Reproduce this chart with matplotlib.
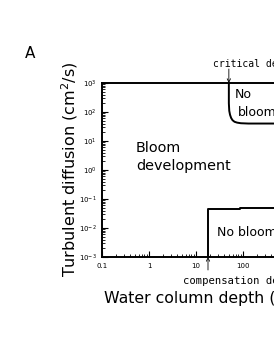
import matplotlib
matplotlib.use("Agg")
import matplotlib.pyplot as plt
from matplotlib.ticker import FixedLocator, FixedFormatter, LogLocator, NullFormatter

# ---- data ----
x_ticks = [0.1, 1, 10, 100, 1000, 10000]
x_tick_labels = ["0.1", "1", "10", "100", "1000", "10000"]
y_ticks = [1e-3, 1e-2, 1e-1, 1e0, 1e1, 1e2, 1e3]
y_tick_labels = [r"$10^{-3}$", r"$10^{-2}$", r"$10^{-1}$", r"$10^{0}$",
                 r"$10^{1}$", r"$10^{2}$", r"$10^{3}$"]

# critical depth boundary (upper "No bloom" region)
crit_depth = [50, 50, 51, 53, 56, 60, 66, 75, 90, 130, 10000]
crit_diff = [1000, 200, 110, 80, 62, 52, 46, 43, 41, 40, 40]

# compensation depth boundary (lower "No bloom" region)
comp_depth = [18, 18, 85, 85, 10000]
comp_diff = [1e-3, 0.044, 0.044, 0.048, 0.048]

W, H = 274, 354
fig = plt.figure(figsize=(W / 100, H / 100), dpi=100)
fig.patch.set_facecolor("white")

def fx(px):
    return px / W

def fy(py):
    return 1 - py / H

# axes: left 102 px, bottom 257 px, top 83 px, 47 px per x decade
ax = fig.add_axes([fx(102), fy(257), 235 / W, 174 / H])
ax.set_xscale("log")
ax.set_yscale("log")
ax.set_xlim(0.1, 10000)
ax.set_ylim(1e-3, 1e3)

ax.plot(crit_depth, crit_diff, color="black", lw=1.4, solid_capstyle="butt")
ax.plot(comp_depth, comp_diff, color="black", lw=1.4, solid_capstyle="butt")

for s in ax.spines.values():
    s.set_linewidth(1.4)

ax.xaxis.set_major_locator(FixedLocator(x_ticks))
ax.xaxis.set_major_formatter(FixedFormatter(x_tick_labels))
ax.yaxis.set_major_locator(FixedLocator(y_ticks))
ax.yaxis.set_major_formatter(FixedFormatter(y_tick_labels))
ax.xaxis.set_minor_locator(LogLocator(base=10, subs=range(2, 10), numticks=20))
ax.yaxis.set_minor_locator(LogLocator(base=10, subs=range(2, 10), numticks=20))
ax.xaxis.set_minor_formatter(NullFormatter())
ax.yaxis.set_minor_formatter(NullFormatter())
ax.tick_params(which="major", direction="in", length=4, width=0.8, labelsize=5, pad=4)
ax.tick_params(which="minor", direction="in", length=2.5, width=0.6)
ax.tick_params(axis="x", which="both", top=False)
ax.tick_params(axis="y", which="both", right=False)

# region labels
ax.text(10 ** (-1 + 34 / 47), 10 ** 0.45, "Bloom\ndevelopment", fontsize=10.4,
        ha="left", va="center", linespacing=1.35)
ax.text(10 ** (-1 + 115 / 47), 10 ** (3 - 150 / 29), "No bloom", fontsize=9,
        ha="left", va="center")
ax.text(10 ** (-1 + 133 / 47), 10 ** (3 - 12 / 29), "No", fontsize=9,
        ha="left", va="center")
ax.text(10 ** (-1 + 136 / 47), 10 ** (3 - 29 / 29), "bloom", fontsize=9,
        ha="left", va="center")

# annotations with arrows
ax.annotate("", xy=(50, 1000), xytext=(50, 10 ** (3 + 14 / 29)),
            arrowprops=dict(arrowstyle="->", lw=0.6, color="black",
                            shrinkA=0, shrinkB=0, mutation_scale=6),
            annotation_clip=False)
ax.annotate("", xy=(18, 1e-3), xytext=(18, 10 ** (-3 - 13 / 29)),
            arrowprops=dict(arrowstyle="->", lw=0.6, color="black",
                            shrinkA=0, shrinkB=0, mutation_scale=6),
            annotation_clip=False)

fig.text(fx(213), fy(64), "critical depth", fontsize=7, family="DejaVu Sans Mono",
         ha="left", va="center")
fig.text(fx(183), fy(281), "compensation depth", fontsize=7.6,
         family="DejaVu Sans Mono", ha="left", va="center")

# axis labels
fig.text(fx(104), fy(298), "Water column depth (m)", fontsize=11.3, ha="left",
         va="center")
fig.text(fx(70), fy(169), "Turbulent diffusion (cm$^2$/s)", fontsize=11.5,
         rotation=90, ha="center", va="center")

# panel label
fig.text(fx(30), fy(53), "A", fontsize=11, ha="center", va="center")

fig.savefig("out.png", dpi=100)
